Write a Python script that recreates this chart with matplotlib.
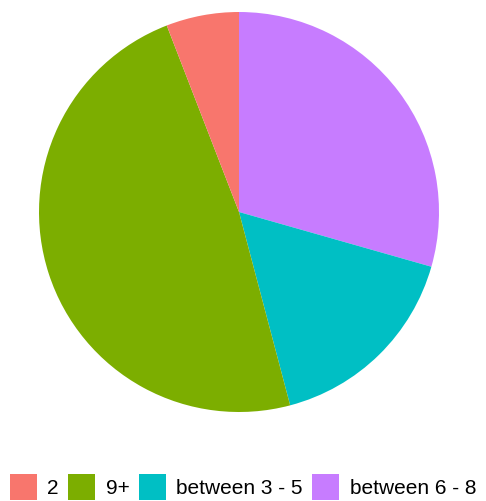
import matplotlib
matplotlib.use("Agg")
import matplotlib.pyplot as plt
from matplotlib.patches import Patch

plt.rcParams["font.family"] = ["Liberation Sans", "DejaVu Sans"]

# counts per group (legend order)
groups = ["2", "9+", "between 3 - 5", "between 6 - 8"]
counts = [5, 41, 14, 25]
colors = ["#F8766D", "#7CAE00", "#00BFC4", "#C77CFF"]

fig = plt.figure(figsize=(4.86, 5.01), dpi=100)
ax = fig.add_axes([39 / 486, (501 - 412) / 501, 400 / 486, 400 / 501])

# slices run clockwise from 12 o'clock, last level first
order = [3, 2, 1, 0]
ax.pie([counts[i] for i in order], colors=[colors[i] for i in order],
       startangle=90, counterclock=False, radius=1.0,
       wedgeprops=dict(linewidth=0))
ax.set_xlim(-1, 1)
ax.set_ylim(-1, 1)
ax.set_aspect("equal")
ax.axis("off")

handles = [Patch(facecolor=c, edgecolor="none") for c in colors]
fig.legend(handles, groups, loc="center", bbox_to_anchor=(0.5, 1 - 487 / 501),
           ncol=4, frameon=False, fontsize=15, handlelength=1.3, handleheight=1.6,
           handletextpad=0.5, columnspacing=0.45, borderpad=0)

fig.savefig("out.png", dpi=100)
